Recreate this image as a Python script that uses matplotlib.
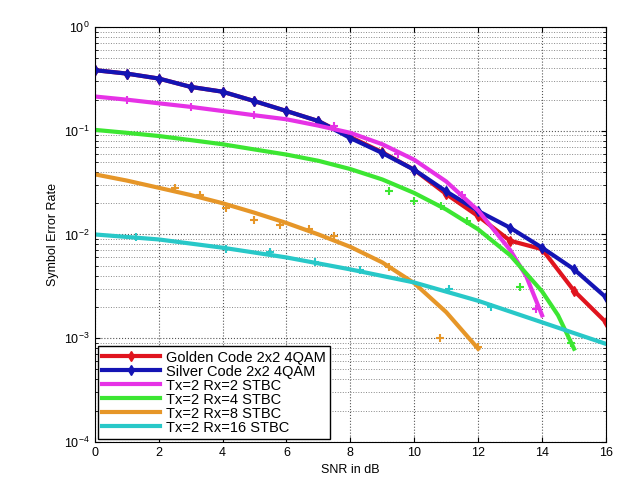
import matplotlib
matplotlib.use("Agg")
import matplotlib.pyplot as plt

plt.rcParams['font.family'] = ['Liberation Sans', 'DejaVu Sans']

# SNR axis
snr = [0, 1, 2, 3, 4, 5, 6, 7, 8, 9, 10, 11, 12, 13, 14, 15, 16]

# Golden / Silver code (simulated, markers on every point)
golden = [0.384, 0.356, 0.319, 0.265, 0.238, 0.193, 0.155, 0.124, 0.087,
          0.062, 0.042, 0.0245, 0.015, 0.0087, 0.0072, 0.00286, 0.00142]
silver = [0.384, 0.356, 0.319, 0.265, 0.238, 0.193, 0.155, 0.124, 0.085,
          0.061, 0.042, 0.026, 0.0168, 0.0116, 0.00745, 0.00461, 0.00247]

# STBC fitted curves
snr_r2 = [0, 1, 2, 3, 4, 5, 6, 7, 8, 9, 10, 11, 12, 13, 13.5, 14]
ser_r2 = [0.214, 0.1995, 0.184, 0.170, 0.155, 0.141, 0.129, 0.112, 0.0955,
          0.0741, 0.0525, 0.0324, 0.0170, 0.00708, 0.00398, 0.00166]
snr_r4 = [0, 1, 2, 3, 4, 5, 6, 7, 8, 9, 10, 11, 12, 13, 14, 14.5, 15]
ser_r4 = [0.102, 0.0955, 0.089, 0.0813, 0.0741, 0.066, 0.0589, 0.0513, 0.0427,
          0.0339, 0.0251, 0.0174, 0.0112, 0.0063, 0.00282, 0.00166, 0.00079]
snr_r8 = [0, 1, 2, 3, 4, 5, 6, 7, 8, 9, 10, 11, 12]
ser_r8 = [0.038, 0.0331, 0.0282, 0.024, 0.020, 0.0162, 0.0129, 0.010, 0.00759,
          0.00537, 0.00339, 0.00178, 0.00079]
snr_r16 = [0, 2, 4, 6, 8, 10, 12, 14, 16]
ser_r16 = [0.01, 0.00895, 0.00745, 0.006, 0.0046, 0.00344, 0.00229, 0.00142, 0.00088]

# simulated points scattered around the STBC fits
pts_r2_x = [1, 3, 5, 7.5, 9.5, 11.5, 13.8]
pts_r2_y = [0.198, 0.168, 0.142, 0.11, 0.06, 0.024, 0.0019]
pts_r4_x = [9.2, 10, 10.85, 11.65, 13.3, 14.9]
pts_r4_y = [0.026, 0.021, 0.019, 0.0135, 0.0031, 0.0009]
pts_r8_x = [2.5, 3.3, 4.1, 5, 5.8, 6.7, 7.5, 9.2, 10.8, 12]
pts_r8_y = [0.028, 0.024, 0.018, 0.0139, 0.0122, 0.0112, 0.0097, 0.0048, 0.001, 0.00082]
pts_r16_x = [1.3, 4.1, 5.5, 6.9, 8.3, 11.1, 12.4]
pts_r16_y = [0.0094, 0.0072, 0.0068, 0.0054, 0.0045, 0.003, 0.002]

red = '#e0141e'
blue = '#1414b4'
magenta = '#e632e6'
green = '#3ce632'
orange = '#e69628'
cyan = '#28c8c8'

fig = plt.figure(figsize=(6.19, 4.92), dpi=100)
ax = fig.add_axes([0.153, 0.102, 0.826, 0.843])

ax.plot(snr, golden, color=red, lw=3, marker='d', ms=5, label='Golden Code 2x2 4QAM')
ax.plot(snr, silver, color=blue, lw=3, marker='d', ms=5, label='Silver Code 2x2 4QAM')
ax.plot(snr_r2, ser_r2, color=magenta, lw=3, label='Tx=2 Rx=2 STBC')
ax.plot(snr_r4, ser_r4, color=green, lw=3, label='Tx=2 Rx=4 STBC')
ax.plot(snr_r8, ser_r8, color=orange, lw=3, label='Tx=2 Rx=8 STBC')
ax.plot(snr_r16, ser_r16, color=cyan, lw=3, label='Tx=2 Rx=16 STBC')

ax.plot(pts_r2_x, pts_r2_y, ls='none', marker='+', color=magenta, ms=6, mew=1.5)
ax.plot(pts_r4_x, pts_r4_y, ls='none', marker='+', color=green, ms=6, mew=1.5)
ax.plot(pts_r8_x, pts_r8_y, ls='none', marker='+', color=orange, ms=6, mew=1.5)
ax.plot(pts_r16_x, pts_r16_y, ls='none', marker='+', color=cyan, ms=6, mew=1.5)

ax.set_yscale('log')
ax.set_xlim(0, 16)
ax.set_ylim(1e-4, 1)
ax.set_xticks(range(0, 17, 2))
ax.grid(True, which='major', ls=':', color='#555555', lw=0.8)
ax.grid(True, which='minor', axis='y', ls=':', color='#888888', lw=0.7)
ax.tick_params(labelsize=9, direction='in', which='both')
ax.tick_params(which='both', top=True, right=True)

ax.set_xlabel('SNR in dB', fontsize=9)
ax.set_ylabel('Symbol Error Rate', fontsize=9)

leg = ax.legend(loc='lower left', fontsize=10.5, fancybox=False, framealpha=1,
                edgecolor='black', handlelength=4, labelspacing=0.0,
                borderaxespad=0.2, handletextpad=0.4, borderpad=0.3)
leg.get_frame().set_linewidth(1.0)

fig.savefig('out.png', dpi=100)
